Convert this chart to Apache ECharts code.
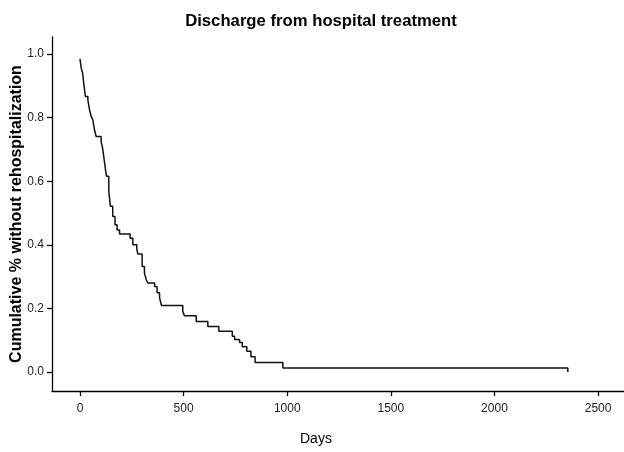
<!DOCTYPE html>
<html>
<head>
<meta charset="utf-8">
<title>Discharge from hospital treatment</title>
<script src="https://cdn.jsdelivr.net/npm/echarts@6/dist/echarts.min.js"></script>
<style>
  html, body { margin: 0; padding: 0; background: #fff; }
  #chart { width: 624px; height: 452px; }
</style>
</head>
<body>
<div id="chart"></div>
<script>
// Kaplan-Meier style steps: day of drop and the survival level after it
var days = [0, 6, 13, 19, 26, 38, 46, 54, 62, 70, 78, 102, 109, 118, 123, 128, 139, 147, 158, 169, 179, 191,
  242, 255, 274, 279, 300, 311, 320, 327, 360, 372, 384, 393, 496, 504, 561, 617, 670, 735, 746, 770,
  783, 805, 825, 845, 979, 2354];
var survival = [0.985, 0.956, 0.940, 0.903, 0.867, 0.856, 0.825, 0.804, 0.793, 0.762, 0.741, 0.725, 0.705,
  0.662, 0.637, 0.616, 0.568, 0.521, 0.489, 0.463, 0.447, 0.434, 0.421, 0.400, 0.387, 0.371, 0.332, 0.311,
  0.290, 0.280, 0.269, 0.249, 0.234, 0.209, 0.191, 0.177, 0.159, 0.143, 0.128, 0.112, 0.102, 0.093, 0.079,
  0.065, 0.048, 0.030, 0.0126, 0.0];
var xTicks = [0, 500, 1000, 1500, 2000, 2500];
var yTicks = [0, 0.2, 0.4, 0.6, 0.8, 1.0];

var chart = echarts.init(document.getElementById('chart'));
var font = 'Liberation Sans, Arial, sans-serif';

var option = {
  animation: false,
  title: {
    text: 'Discharge from hospital treatment',
    left: 316,
    textAlign: 'center',
    top: 8,
    textStyle: { fontFamily: font, fontSize: 16.7, fontWeight: 'bold', color: '#000' }
  },
  graphic: [{
    type: 'text',
    left: 316 - 16,
    top: 432,
    style: { text: 'Days', font: '14px ' + font, fill: '#000' }
  }],
  grid: { left: 52, right: 0, top: 37, bottom: 61, outerBoundsMode: 'none' },
  xAxis: {
    type: 'value',
    min: -135,
    max: 2625,
    splitLine: { show: false },
    axisLine: { onZero: false, lineStyle: { color: '#000', width: 1.3 } },
    axisTick: { customValues: xTicks, length: 5, lineStyle: { color: '#000', width: 1.3 } },
    axisLabel: {
      customValues: xTicks, margin: 12,
      fontFamily: font, fontSize: 12, color: '#222',
      formatter: function (v) { return String(v); }
    }
  },
  yAxis: {
    type: 'value',
    min: -0.06,
    max: 1.054,
    splitLine: { show: false },
    name: 'Cumulative % without rehospitalization',
    nameLocation: 'middle',
    nameGap: 27,
    nameMoveOverlap: false,
    nameTextStyle: { fontFamily: font, fontSize: 16, fontWeight: 'bold', color: '#000' },
    axisLine: { show: true, onZero: false, lineStyle: { color: '#000', width: 1.3 } },
    axisTick: { show: true, customValues: yTicks, length: 5, lineStyle: { color: '#000', width: 1.3 } },
    axisLabel: {
      customValues: yTicks, margin: 8,
      fontFamily: font, fontSize: 12, color: '#222',
      formatter: function (v) { return v.toFixed(1); }
    }
  },
  series: [{
    type: 'line',
    step: 'end',
    symbol: 'none',
    lineStyle: { color: '#111', width: 1.5 },
    data: days.map(function (d, i) { return [d, survival[i]]; })
  }]
};
chart.setOption(option);
</script>
</body>
</html>
